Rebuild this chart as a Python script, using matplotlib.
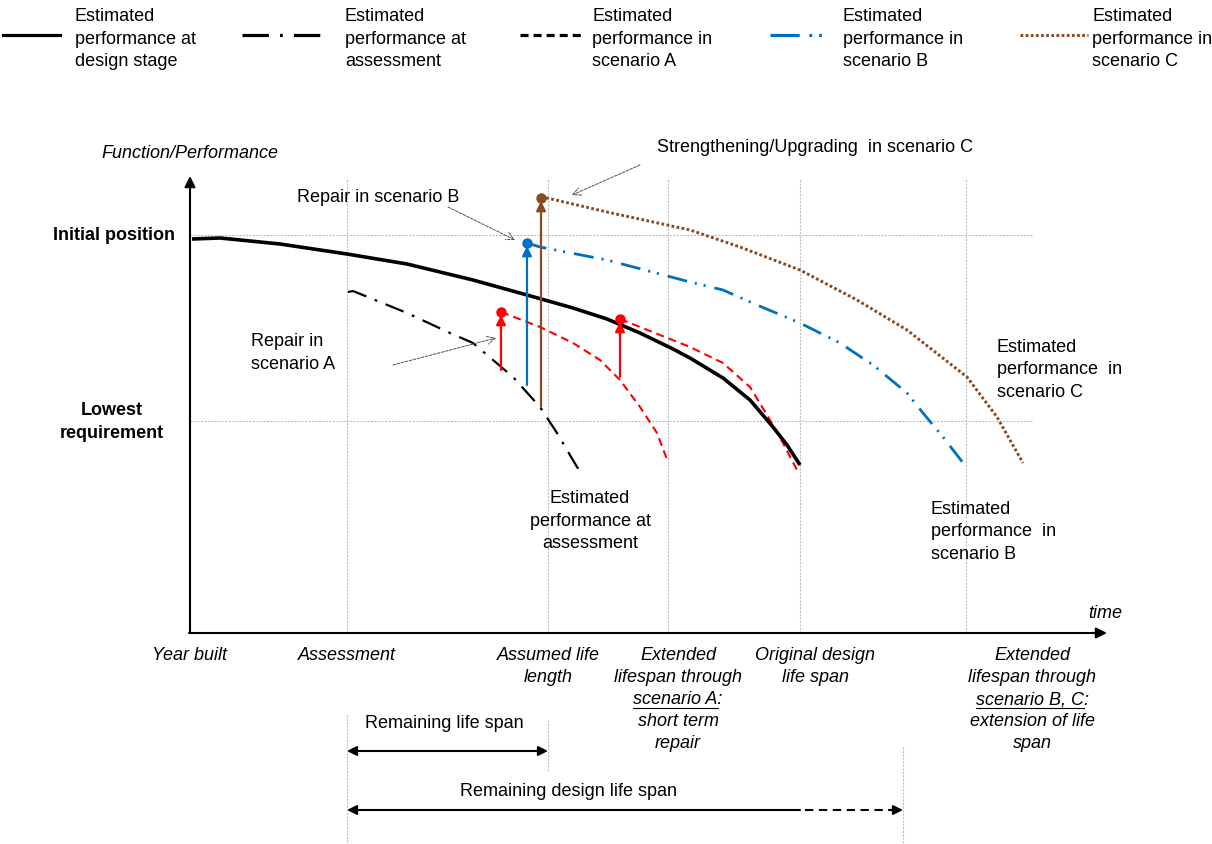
import matplotlib
matplotlib.use('Agg')
import matplotlib.pyplot as plt

plt.rcParams['font.family'] = ['Liberation Sans', 'DejaVu Sans']
plt.rcParams['font.size'] = 13
plt.rcParams['lines.scale_dashes'] = False

# time axis (arbitrary units, year built = 0) and performance levels
MILESTONE_T = [0, 157, 358, 478, 610, 776]
MILESTONE_LABELS = ['Year built', 'Assessment', 'Assumed life\nlength',
                    'Extended\nlifespan through\nscenario A:\nshort term\nrepair',
                    'Original design\nlife span',
                    'Extended\nlifespan through\nscenario B, C:\nextension of life\nspan']
UNDERLINED = {'scenario A:': 'scenario A', 'scenario B, C:': 'scenario B, C'}
INITIAL_P = 398
LOWEST_P = 212
DESIGN_LIFE_END = 713

design_t = [2, 30, 90, 157, 217, 283, 337, 383, 417, 450, 483, 500, 533, 560, 583, 597, 610]
design_p = [394, 395, 389, 379, 369, 353, 338, 325, 314, 300, 284, 275, 255, 233, 206, 188, 168]

assess_t = [158, 163, 217, 260, 283, 323, 350, 367, 387, 392]
assess_p = [341, 342, 320, 300, 290, 256, 226, 200, 166, 160]

scenA1_t = [311, 350, 383, 410, 430, 450, 467, 478]
scenA1_p = [321, 306, 290, 273, 253, 226, 200, 171]

scenA2_t = [430, 450, 500, 533, 560, 580, 593, 607]
scenA2_p = [314, 306, 286, 270, 246, 213, 190, 163]

scenB_t = [337, 350, 417, 500, 533, 567, 610, 650, 683, 717, 733, 753, 777]
scenB_p = [390, 386, 373, 351, 343, 328, 310, 290, 268, 240, 220, 196, 165]

scenC_t = [351, 357, 417, 500, 550, 610, 667, 717, 777, 807, 833]
scenC_p = [435, 435, 421, 403, 386, 363, 333, 303, 256, 216, 170]

# interventions: time, performance before, performance after
repair_t = [311, 430, 337, 351]
repair_from = [263, 256, 248, 226]
repair_to = [321, 314, 390, 435]

RED = '#FF0000'
BLUE = '#0070C0'
BROWN = '#8B4A1E'
GRID = '#BDBDBD'

STYLES = {
    'design': dict(color='black', lw=2.6, ls='-'),
    'assess': dict(color='black', lw=1.6, ls=(0, (14, 6.5, 2, 6.5))),
    'A': dict(color=RED, lw=1.5, ls=(0, (5.8, 3.6))),
    'B': dict(color=BLUE, lw=2.0, ls=(0, (14.4, 5.8, 1.5, 5, 1.5, 6.5))),
    'C': dict(color=BROWN, lw=2.1, ls=(0, (2.0, 1.7))),
}
LEGEND_DASHES = {
    'assess': (0, (19, 8, 2, 8)),
    'B': (0, (21, 7, 2, 5, 2, 8)),
}

fig = plt.figure(figsize=(12.12, 8.44), dpi=100)
ax = fig.add_axes([0, 0, 1, 1])
ax.set_xlim(-190, 1022)
ax.set_ylim(-211, 633)
ax.axis('off')

# grid lines
grid_style = dict(color=GRID, lw=0.8, ls=(0, (1.5, 1)), zorder=1)
for t in MILESTONE_T[1:]:
    ax.plot([t, t], [0, 455], **grid_style)
for p in [INITIAL_P, LOWEST_P]:
    ax.plot([0, 842], [p, p], **grid_style)
ax.plot([MILESTONE_T[1]] * 2, [-82, -211], **grid_style)
ax.plot([MILESTONE_T[2]] * 2, [-87, -139], **grid_style)
ax.plot([DESIGN_LIFE_END] * 2, [-114, -211], **grid_style)

# axes arrows
axis_arrow = dict(arrowstyle='-|>', lw=1.5, color='black', mutation_scale=16,
                  shrinkA=0, shrinkB=0)
ax.annotate('', xy=(0, 457), xytext=(0, 0), arrowprops=axis_arrow)
ax.annotate('', xy=(917, 0), xytext=(-1, 0), arrowprops=axis_arrow)

# curves
ax.plot(design_t, design_p, solid_capstyle='butt', solid_joinstyle='round',
        zorder=4, **STYLES['design'])
ax.plot(assess_t, assess_p, zorder=3, **STYLES['assess'])
ax.plot(scenA1_t, scenA1_p, zorder=3, **STYLES['A'])
ax.plot(scenA2_t, scenA2_p, zorder=3, **STYLES['A'])
ax.plot(scenB_t, scenB_p, zorder=3, **STYLES['B'])
ax.plot(scenC_t, scenC_p, zorder=3, dash_capstyle='butt', **STYLES['C'])

# repair / upgrade arrows
repair_colors = [RED, RED, BLUE, BROWN]
for t, p0, p1, c in zip(repair_t, repair_from, repair_to, repair_colors):
    ax.annotate('', xy=(t, p1 - 3), xytext=(t, p0),
                arrowprops=dict(arrowstyle='-|>', lw=1.6, color=c,
                                mutation_scale=14, shrinkA=0, shrinkB=0),
                zorder=5)
    ax.plot([t], [p1], 'o', color=c, ms=6.5, zorder=6)

# callouts
callout = dict(arrowstyle='->', lw=0.7, color='#505050', ls=(0, (2, 1)),
               mutation_scale=14, shrinkA=0, shrinkB=0)
ax.text(107, 435, 'Repair in scenario B', va='center')
ax.annotate('', xy=(325, 393), xytext=(258, 426), arrowprops=callout)
ax.text(467, 485, 'Strengthening/Upgrading  in scenario C', va='center')
ax.annotate('', xy=(382, 438), xytext=(450, 468), arrowprops=callout)
ax.text(61, 280, 'Repair in\nscenario A', va='center', linespacing=1.42)
ax.annotate('', xy=(306, 295), xytext=(203, 268), arrowprops=callout)

ax.text(400, 112, 'Estimated\nperformance at\nassessment', ha='center', va='center',
        linespacing=1.42)
ax.text(807, 263, 'Estimated\nperformance  in\nscenario C', va='center', linespacing=1.42)
ax.text(741, 101, 'Estimated\nperformance  in\nscenario B', va='center', linespacing=1.42)

# axis labels
ax.text(-89, 479, 'Function/Performance', style='italic', va='center')
ax.text(915, 20, 'time', style='italic', ha='center', va='center')
ax.text(-15, INITIAL_P - 1, 'Initial position', weight='bold', ha='right', va='center')
ax.text(-78, LOWEST_P - 1, 'Lowest\nrequirement', weight='bold', ha='center',
        va='center', linespacing=1.42)

# milestone labels
label_x = [-1, 157, 358, 488, 625, 842]
underline_texts = []
for x, label in zip(label_x, MILESTONE_LABELS):
    for i, line in enumerate(label.split('\n')):
        txt = ax.text(x, -23 - 22 * i, line, style='italic', ha='center', va='center')
        if line in UNDERLINED:
            underline_texts.append(txt)

# span arrows
span_arrow = dict(arrowstyle='<|-|>', lw=1.5, color='black', mutation_scale=14,
                  shrinkA=0, shrinkB=0)
ax.annotate('', xy=(MILESTONE_T[2], -118), xytext=(MILESTONE_T[1], -118),
            arrowprops=span_arrow)
ax.text(254, -91, 'Remaining life span', ha='center', va='center')
ax.annotate('', xy=(MILESTONE_T[4], -177), xytext=(MILESTONE_T[1], -177),
            arrowprops=dict(span_arrow, arrowstyle='<|-'))
ax.plot([MILESTONE_T[4] + 5, DESIGN_LIFE_END - 12], [-177, -177], color='black',
        lw=1.5, ls=(0, (6, 4)))
ax.annotate('', xy=(DESIGN_LIFE_END, -177), xytext=(DESIGN_LIFE_END - 14, -177),
            arrowprops=dict(span_arrow, arrowstyle='-|>'))
ax.text(379, -159, 'Remaining design life span', ha='center', va='center')

# legend drawn by hand across the top
legend_items = [
    ('design', 'black', 'Estimated\nperformance at\ndesign stage', -187, -130, -115),
    ('assess', 'black', 'Estimated\nperformance at\nassessment', 52, 132, 155),
    ('A', 'black', 'Estimated\nperformance in\nscenario A', 330, 393, 402),
    ('B', BLUE, 'Estimated\nperformance in\nscenario B', 580, 640, 653),
    ('C', BROWN, 'Estimated\nperformance in\nscenario C', 830, 898, 902),
]
for key, color, label, x0, x1, xt in legend_items:
    st = dict(STYLES[key])
    st['color'] = color
    if key != 'C':
        st['lw'] = 2.3
    if key in LEGEND_DASHES:
        st['ls'] = LEGEND_DASHES[key]
    ax.plot([x0, x1], [598, 598], dash_capstyle='butt', **st)
    ax.text(xt, 594, label, va='center', linespacing=1.42)

# underline the scenario names in the milestone labels
fig.canvas.draw()
renderer = fig.canvas.get_renderer()
inv = ax.transData.inverted()
for txt in underline_texts:
    full = txt.get_text()
    bb = txt.get_window_extent(renderer)
    probe = ax.text(0, 0, full[len(UNDERLINED[full]):], style='italic')
    colon_w = probe.get_window_extent(renderer).width
    probe.remove()
    (xa, ya) = inv.transform((bb.x0, bb.y0 + 1))
    (xb, _) = inv.transform((bb.x1 - colon_w, bb.y0 + 1))
    ax.plot([xa, xb], [ya, ya], color='black', lw=0.8)

fig.savefig('out.png', dpi=100)
